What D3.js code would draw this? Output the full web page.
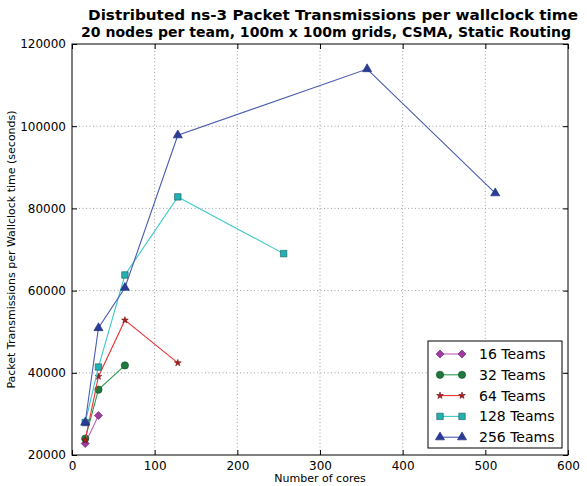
<!DOCTYPE html>
<html>
<head>
<meta charset="utf-8">
<script src="https://cdn.jsdelivr.net/npm/d3@7"></script>
<style>
body { margin: 0; background: #fff; }
svg { font-family: "DejaVu Sans", sans-serif; }
</style>
</head>
<body>
<div id="container"></div>
<script>
let w = 587;
let h = 486;
let margin = {left: 72, right: 19, top: 44, bottom: 31};

// data
let seriesNames = ["16 Teams", "32 Teams", "64 Teams", "128 Teams", "256 Teams"];
let cores16 = [16, 32];
let vals16 = [22800, 29600];
let cores32 = [16, 32, 64];
let vals32 = [24000, 35900, 41800];
let cores64 = [16, 32, 64, 128];
let vals64 = [23600, 39100, 52800, 42400];
let cores128 = [16, 32, 64, 128, 256];
let vals128 = [27900, 41400, 63800, 82800, 69000];
let cores256 = [16, 32, 64, 128, 357, 512];
let vals256 = [27900, 50900, 60700, 97800, 113900, 83700];
let xTicks = [0, 100, 200, 300, 400, 500, 600];
let yTicks = [20000, 40000, 60000, 80000, 100000, 120000];

let styles = [
    {line: "#c05ec0", fill: "#a03ca0", stroke: "#6a1f6a", shape: d3.symbolSquare, size: 32, rot: 45},
    {line: "#2e9a52", fill: "#1d7a3e", stroke: "#0f4a24", shape: d3.symbolCircle, size: 42, rot: 0},
    {line: "#ee3333", fill: "#b02020", stroke: "#701010", shape: d3.symbolStar, size: 14, rot: 0},
    {line: "#3cc8c8", fill: "#22b0b0", stroke: "#1a5a5a", shape: d3.symbolSquare, size: 42, rot: 0},
    {line: "#4a5cb0", fill: "#2a3c98", stroke: "#1a2670", shape: d3.symbolTriangle, size: 36, rot: 0}
];

let allCores = [cores16, cores32, cores64, cores128, cores256];
let allVals = [vals16, vals32, vals64, vals128, vals256];
let series = seriesNames.map((name, i) => ({
    name: name,
    style: styles[i],
    points: allCores[i].map((c, j) => ({x: c, y: allVals[i][j]}))
}));

let svg = d3.select('#container').append('svg')
    .attr('width', w).attr('height', h);

let xScale = d3.scaleLinear().domain([0, 600]).range([margin.left, w - margin.right]);
let yScale = d3.scaleLinear().domain([20000, 120000]).range([h - margin.bottom, margin.top]);

// grid
let grid = svg.append('g');
grid.selectAll('.vg').data(xTicks.slice(1, -1)).enter().append('line')
    .attr('x1', d => xScale(d)).attr('x2', d => xScale(d))
    .attr('y1', margin.top).attr('y2', h - margin.bottom)
    .attr('stroke', '#888').attr('stroke-width', 0.8).attr('stroke-dasharray', '1,2.5');
grid.selectAll('.hg').data(yTicks.slice(1, -1)).enter().append('line')
    .attr('y1', d => yScale(d)).attr('y2', d => yScale(d))
    .attr('x1', margin.left).attr('x2', w - margin.right)
    .attr('stroke', '#888').attr('stroke-width', 0.8).attr('stroke-dasharray', '1,2.5');

// axes, ticks pointing inward
let fmt = d3.format('d');
let xAxis = d3.axisBottom(xScale).tickValues(xTicks).tickSizeInner(-5).tickSizeOuter(0).tickPadding(6).tickFormat(fmt);
let xTop = d3.axisTop(xScale).tickValues(xTicks).tickSizeInner(-5).tickSizeOuter(0).tickFormat('');
let yAxis = d3.axisLeft(yScale).tickValues(yTicks).tickSizeInner(-5).tickSizeOuter(0).tickPadding(6).tickFormat(fmt);
let yRight = d3.axisRight(yScale).tickValues(yTicks).tickSizeInner(-5).tickSizeOuter(0).tickFormat('');

svg.append('g').attr('transform', `translate(0,${h - margin.bottom})`).call(xAxis);
svg.append('g').attr('transform', `translate(0,${margin.top})`).call(xTop);
svg.append('g').attr('transform', `translate(${margin.left},0)`).call(yAxis);
svg.append('g').attr('transform', `translate(${w - margin.right},0)`).call(yRight);
svg.selectAll('.domain').remove();
svg.selectAll('.tick text').attr('font-size', 12).attr('fill', '#000')
    .attr('font-family', '"DejaVu Sans", sans-serif');
svg.selectAll('.tick line').attr('stroke', '#000');

svg.append('rect')
    .attr('x', margin.left).attr('y', margin.top)
    .attr('width', w - margin.left - margin.right).attr('height', h - margin.top - margin.bottom)
    .attr('fill', 'none').attr('stroke', '#000').attr('stroke-width', 1);

// lines + markers
let line = d3.line().x(d => xScale(d.x)).y(d => yScale(d.y));
series.forEach(s => {
    let g = svg.append('g');
    g.append('path').datum(s.points).attr('d', line)
        .attr('fill', 'none').attr('stroke', s.style.line).attr('stroke-width', 1.1);
    g.selectAll('path.m').data(s.points).enter().append('path').classed('m', true)
        .attr('d', d3.symbol().type(s.style.shape).size(s.style.size))
        .attr('transform', d => `translate(${xScale(d.x)},${yScale(d.y)}) rotate(${s.style.rot})`)
        .attr('fill', s.style.fill).attr('stroke', s.style.stroke).attr('stroke-width', 0.6);
});

// titles
svg.append('text').attr('x', 333).attr('y', 20).attr('text-anchor', 'middle')
    .attr('font-size', 14.5).attr('font-weight', 'bold')
    .attr('textLength', 490).attr('lengthAdjust', 'spacingAndGlyphs')
    .text('Distributed ns-3 Packet Transmissions per wallclock time');
svg.append('text').attr('x', 326).attr('y', 37).attr('text-anchor', 'middle')
    .attr('font-size', 14.5).attr('font-weight', 'bold')
    .attr('textLength', 490).attr('lengthAdjust', 'spacingAndGlyphs')
    .text('20 nodes per team, 100m x 100m grids, CSMA, Static Routing');

svg.append('text').attr('x', (margin.left + w - margin.right) / 2).attr('y', 482)
    .attr('text-anchor', 'middle').attr('font-size', 11).text('Number of cores');
svg.append('text')
    .attr('transform', `translate(15,${(margin.top + h - margin.bottom) / 2}) rotate(-90)`)
    .attr('text-anchor', 'middle').attr('font-size', 11)
    .text('Packet Transmissions per Wallclock time (seconds)');

// legend
let lg = svg.append('g').attr('transform', 'translate(428,341)');
lg.append('rect').attr('width', 134).attr('height', 107)
    .attr('fill', '#fff').attr('stroke', '#000').attr('stroke-width', 1);
series.forEach((s, i) => {
    let yy = 13 + i * 20.8;
    lg.append('line').attr('x1', 12).attr('x2', 34).attr('y1', yy).attr('y2', yy)
        .attr('stroke', s.style.line).attr('stroke-width', 1.1);
    [12, 34].forEach(xx => {
        lg.append('path').attr('d', d3.symbol().type(s.style.shape).size(s.style.size))
            .attr('transform', `translate(${xx},${yy}) rotate(${s.style.rot})`)
            .attr('fill', s.style.fill).attr('stroke', s.style.stroke).attr('stroke-width', 0.6);
    });
    lg.append('text').attr('x', 51).attr('y', yy + 5).attr('font-size', 14).text(s.name);
});
</script>
</body>
</html>
